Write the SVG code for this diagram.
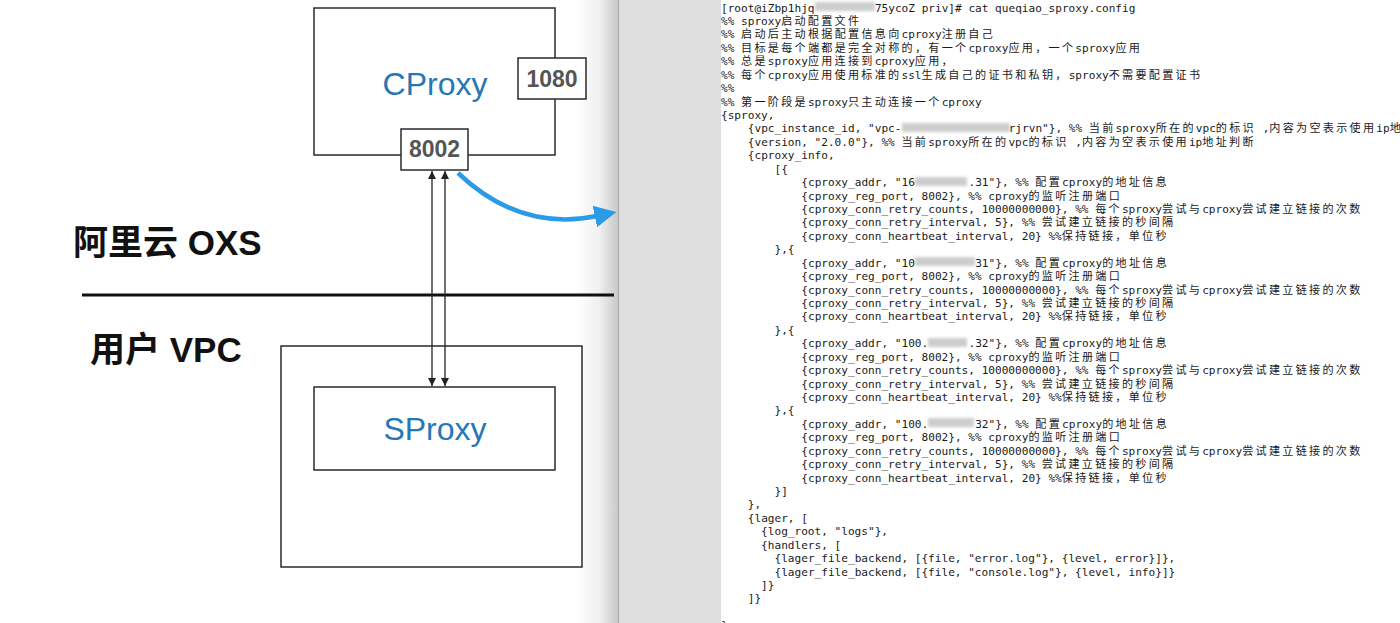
<svg xmlns="http://www.w3.org/2000/svg" width="1400" height="623" viewBox="0 0 1400 623">
<defs>
<style>
.box{fill:#fff;stroke:#2a2a2a;stroke-width:1.5}
.name{font-family:"Liberation Sans",Arial,sans-serif;font-size:32px;fill:#2777b5;text-anchor:middle}
.port{font-family:"Liberation Sans",Arial,sans-serif;font-size:23px;font-weight:bold;fill:#555;text-anchor:middle}
.zone{font-family:"Liberation Sans","Noto Sans CJK SC",sans-serif;font-size:35px;font-weight:bold;fill:#111}
.t{font-family:"DejaVu Sans Mono","Liberation Mono",monospace;font-size:11.1px;fill:#1a1a1a}
.z{font-family:"Noto Sans CJK SC",sans-serif;letter-spacing:2.28px}
.blur{fill:#cdcdcd;filter:url(#bl)}
</style>
<linearGradient id="shade" x1="0" y1="0" x2="1" y2="0">
<stop offset="0" stop-color="#ffffff"/>
<stop offset="0.55" stop-color="#f0f0f0"/>
<stop offset="1" stop-color="#c6c6c6"/>
</linearGradient>
<filter id="bl" x="-20%" y="-80%" width="140%" height="260%"><feGaussianBlur stdDeviation="1.8"/></filter>
<marker id="ah" viewBox="0 0 10 10" refX="10" refY="5" markerWidth="9" markerHeight="8" markerUnits="userSpaceOnUse" orient="auto-start-reverse"><path d="M0,0 L10,5 L0,10 Z" fill="#222"/></marker>
<marker id="bh" viewBox="0 0 10 10" refX="1" refY="5" markerWidth="22" markerHeight="26" markerUnits="userSpaceOnUse" orient="auto"><path d="M0,0 L10,5 L0,10 Z" fill="#2b9be8"/></marker>
</defs>
<rect x="0" y="0" width="1400" height="623" fill="#fff"/>
<rect x="575" y="0" width="44" height="623" fill="url(#shade)"/>
<rect x="619" y="0" width="102" height="623" fill="#dedede"/>
<line x1="618.5" y1="0" x2="618.5" y2="623" stroke="#a8a8a8" stroke-width="1"/>

<g id="zone-labels">
<text class="zone" x="73" y="255">阿里云 OXS</text>
<line x1="82" y1="295" x2="614" y2="295" stroke="#111" stroke-width="3"/>
<text class="zone" x="90" y="362">用户 VPC</text>
</g>

<g id="vpc"><rect class="box" x="281" y="346" width="301" height="221"/></g>
<g id="cproxy"><rect class="box" x="314" y="8" width="241" height="147"/><text class="name" x="435" y="95">CProxy</text></g>
<g id="port-1080"><rect class="box" x="518" y="58" width="68" height="41"/><text class="port" x="552" y="87">1080</text></g>
<g id="port-8002"><rect class="box" x="401" y="129" width="67" height="41"/><text class="port" x="434.5" y="157">8002</text></g>
<g id="sproxy"><rect class="box" x="314" y="387" width="241" height="83"/><text class="name" x="435" y="440">SProxy</text></g>

<g id="connectors" fill="none">
<line x1="432" y1="171" x2="432" y2="386" stroke="#222" stroke-width="1.3" marker-start="url(#ah)" marker-end="url(#ah)"/>
<line x1="445" y1="171" x2="445" y2="386" stroke="#222" stroke-width="1.3" marker-start="url(#ah)" marker-end="url(#ah)"/>
<path d="M458,173 Q520,232 597,216" stroke="#2b9be8" stroke-width="4.5" marker-end="url(#bh)"/>
</g>

<g id="terminal">
<rect class="blur" x="815" y="2" width="60" height="9"/>
<rect class="blur" x="902" y="123" width="108" height="9"/>
<rect class="blur" x="915" y="177" width="52" height="9"/>
<rect class="blur" x="915" y="257" width="60" height="9"/>
<rect class="blur" x="928" y="338" width="39" height="9"/>
<rect class="blur" x="928" y="418" width="46" height="9"/>

<text class="t" x="721" y="11.5">[root@iZbp1hjq</text>
<text class="t" x="874.9" y="11.5">75ycoZ priv]# cat queqiao_sproxy.config</text>
<text class="t" x="721" y="24.9">%% sproxy<tspan class="z">启动配置文件</tspan></text>
<text class="t" x="721" y="38.4">%% <tspan class="z">启动后主动根据配置信息向</tspan>cproxy<tspan class="z">注册自己</tspan></text>
<text class="t" x="721" y="51.8">%% <tspan class="z">目标是每个端都是完全对称的，有一个</tspan>cproxy<tspan class="z">应用，一个</tspan>sproxy<tspan class="z">应用</tspan></text>
<text class="t" x="721" y="65.2">%% <tspan class="z">总是</tspan>sproxy<tspan class="z">应用连接到</tspan>cproxy<tspan class="z">应用，</tspan></text>
<text class="t" x="721" y="78.7">%% <tspan class="z">每个</tspan>cproxy<tspan class="z">应用使用标准的</tspan>ssl<tspan class="z">生成自己的证书和私钥，</tspan>sproxy<tspan class="z">不需要配置证书</tspan></text>
<text class="t" x="721" y="92.1">%%</text>
<text class="t" x="721" y="105.5">%% <tspan class="z">第一阶段是</tspan>sproxy<tspan class="z">只主动连接一个</tspan>cproxy</text>
<text class="t" x="721" y="118.9">{sproxy,</text>
<text class="t" x="747.8" y="132.4">{vpc_instance_id, "vpc-</text>
<text class="t" x="1008.7" y="132.4">rjrvn"}, %% <tspan class="z">当前</tspan>sproxy<tspan class="z">所在的</tspan>vpc<tspan class="z">的标识</tspan> ,<tspan class="z">内容为空表示使用</tspan>ip<tspan class="z">地</tspan></text>
<text class="t" x="747.8" y="145.8">{version, "2.0.0"}, %% <tspan class="z">当前</tspan>sproxy<tspan class="z">所在的</tspan>vpc<tspan class="z">的标识</tspan> ,<tspan class="z">内容为空表示使用</tspan>ip<tspan class="z">地址判断</tspan></text>
<text class="t" x="747.8" y="159.2">{cproxy_info,</text>
<text class="t" x="774.5" y="172.7">[{</text>

<text class="t" x="801.3" y="186.1">{cproxy_addr, "16</text>
<text class="t" x="968.5" y="186.1">.31"}, %% <tspan class="z">配置</tspan>cproxy<tspan class="z">的地址信息</tspan></text>
<text class="t" x="801.3" y="199.5">{cproxy_reg_port, 8002}, %% cproxy<tspan class="z">的监听注册端口</tspan></text>
<text class="t" x="801.3" y="213.0">{cproxy_conn_retry_counts, 10000000000}, %% <tspan class="z">每个</tspan>sproxy<tspan class="z">尝试与</tspan>cproxy<tspan class="z">尝试建立链接的次数</tspan></text>
<text class="t" x="801.3" y="226.4">{cproxy_conn_retry_interval, 5}, %% <tspan class="z">尝试建立链接的秒间隔</tspan></text>
<text class="t" x="801.3" y="239.8">{cproxy_conn_heartbeat_interval, 20} %%<tspan class="z">保持链接，单位秒</tspan></text>
<text class="t" x="774.5" y="253.2">},{</text>

<text class="t" x="801.3" y="266.7">{cproxy_addr, "10</text>
<text class="t" x="975.2" y="266.7">31"}, %% <tspan class="z">配置</tspan>cproxy<tspan class="z">的地址信息</tspan></text>
<text class="t" x="801.3" y="280.1">{cproxy_reg_port, 8002}, %% cproxy<tspan class="z">的监听注册端口</tspan></text>
<text class="t" x="801.3" y="293.5">{cproxy_conn_retry_counts, 10000000000}, %% <tspan class="z">每个</tspan>sproxy<tspan class="z">尝试与</tspan>cproxy<tspan class="z">尝试建立链接的次数</tspan></text>
<text class="t" x="801.3" y="307.0">{cproxy_conn_retry_interval, 5}, %% <tspan class="z">尝试建立链接的秒间隔</tspan></text>
<text class="t" x="801.3" y="320.4">{cproxy_conn_heartbeat_interval, 20} %%<tspan class="z">保持链接，单位秒</tspan></text>
<text class="t" x="774.5" y="333.8">},{</text>

<text class="t" x="801.3" y="347.3">{cproxy_addr, "100.</text>
<text class="t" x="968.5" y="347.3">.32"}, %% <tspan class="z">配置</tspan>cproxy<tspan class="z">的地址信息</tspan></text>
<text class="t" x="801.3" y="360.7">{cproxy_reg_port, 8002}, %% cproxy<tspan class="z">的监听注册端口</tspan></text>
<text class="t" x="801.3" y="374.1">{cproxy_conn_retry_counts, 10000000000}, %% <tspan class="z">每个</tspan>sproxy<tspan class="z">尝试与</tspan>cproxy<tspan class="z">尝试建立链接的次数</tspan></text>
<text class="t" x="801.3" y="387.6">{cproxy_conn_retry_interval, 5}, %% <tspan class="z">尝试建立链接的秒间隔</tspan></text>
<text class="t" x="801.3" y="401.0">{cproxy_conn_heartbeat_interval, 20} %%<tspan class="z">保持链接，单位秒</tspan></text>
<text class="t" x="774.5" y="414.4">},{</text>

<text class="t" x="801.3" y="427.8">{cproxy_addr, "100.</text>
<text class="t" x="975.2" y="427.8">32"}, %% <tspan class="z">配置</tspan>cproxy<tspan class="z">的地址信息</tspan></text>
<text class="t" x="801.3" y="441.3">{cproxy_reg_port, 8002}, %% cproxy<tspan class="z">的监听注册端口</tspan></text>
<text class="t" x="801.3" y="454.7">{cproxy_conn_retry_counts, 10000000000}, %% <tspan class="z">每个</tspan>sproxy<tspan class="z">尝试与</tspan>cproxy<tspan class="z">尝试建立链接的次数</tspan></text>
<text class="t" x="801.3" y="468.1">{cproxy_conn_retry_interval, 5}, %% <tspan class="z">尝试建立链接的秒间隔</tspan></text>
<text class="t" x="801.3" y="481.6">{cproxy_conn_heartbeat_interval, 20} %%<tspan class="z">保持链接，单位秒</tspan></text>
<text class="t" x="774.5" y="495.0">}]</text>
<text class="t" x="747.8" y="508.4">},</text>
<text class="t" x="747.8" y="521.9">{lager, [</text>
<text class="t" x="761.1" y="535.3">{log_root, "logs"},</text>
<text class="t" x="761.1" y="548.7">{handlers, [</text>
<text class="t" x="774.5" y="562.1">{lager_file_backend, [{file, "error.log"}, {level, error}]},</text>
<text class="t" x="774.5" y="575.6">{lager_file_backend, [{file, "console.log"}, {level, info}]}</text>
<text class="t" x="761.1" y="589.0">]}</text>
<text class="t" x="747.8" y="602.4">]}</text>
<text class="t" x="721" y="629.3">}</text>
</g>
</svg>
